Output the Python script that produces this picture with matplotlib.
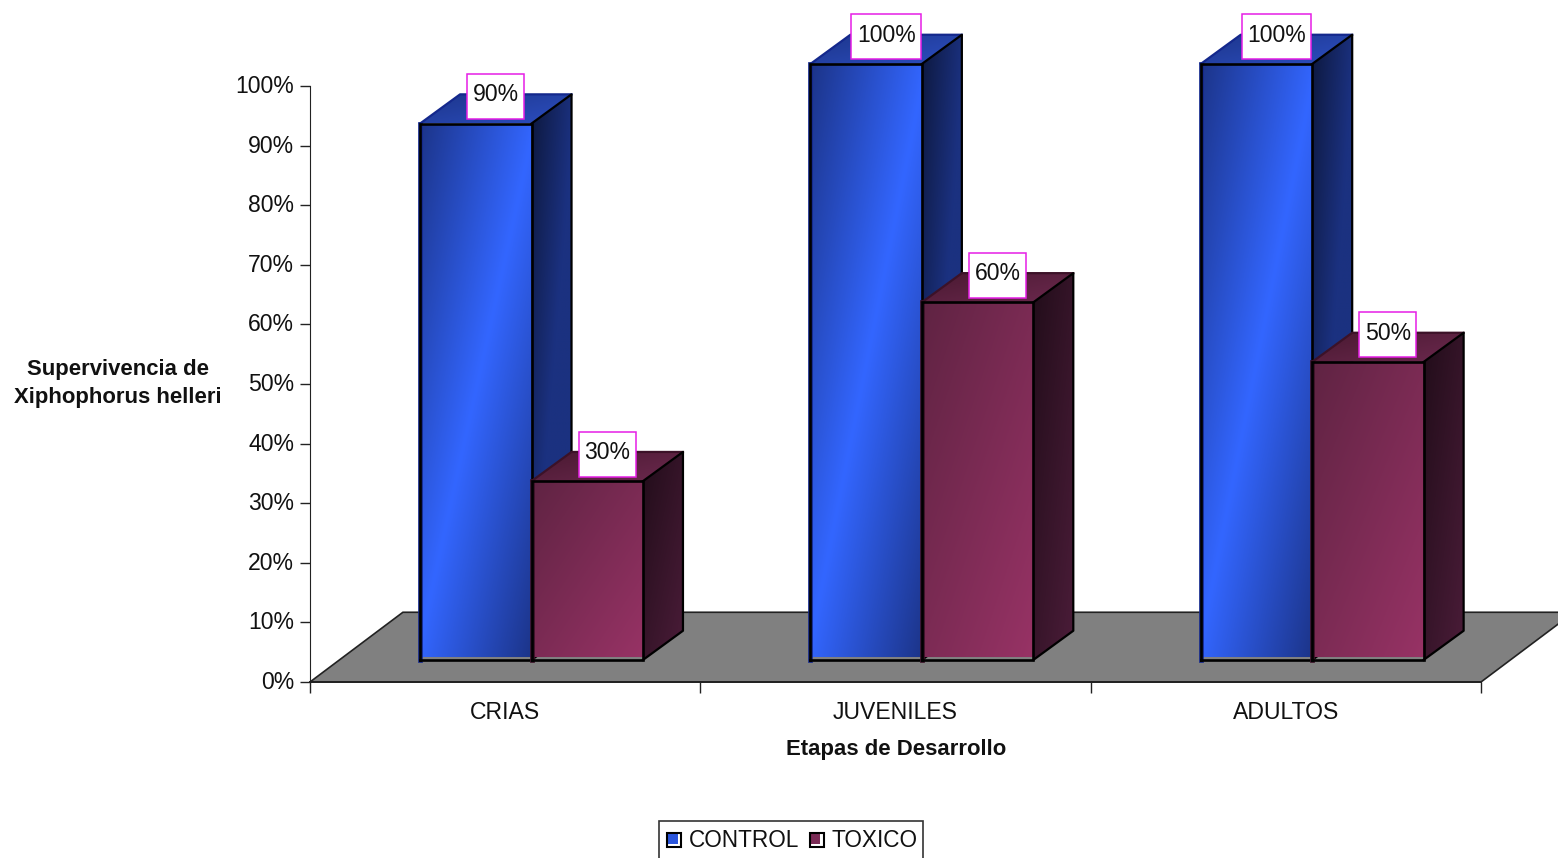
import matplotlib
matplotlib.use("Agg")
import matplotlib.pyplot as plt
import numpy as np
from matplotlib.colors import LinearSegmentedColormap
from matplotlib.legend_handler import HandlerBase
from matplotlib.patches import Polygon, Rectangle
from matplotlib.path import Path
from matplotlib.transforms import ScaledTranslation

plt.rcParams["font.family"] = ["Liberation Sans", "DejaVu Sans"]

categories = ["CRIAS", "JUVENILES", "ADULTOS"]
control = [90, 100, 100]
toxico = [30, 60, 50]
y_ticks = list(range(0, 101, 10))

W, H = 1558, 858
AX_LEFT, AX_RIGHT, AX_TOP, AX_BOTTOM = 310, 1481, 86, 682

# sizes in data units: x = categories, y = percent
BAR_W = 0.2855
BAR_START = 0.282
BAR_BASE = 3.7
DEPTH_X, DEPTH_Y = 0.1025, 4.9
FLOOR_X, FLOOR_Y = 0.238, 11.7
FONT = 16.6

blue_front = LinearSegmentedColormap.from_list("bf", ["#1b3284", "#3366ff", "#1b3284"])
blue_side = LinearSegmentedColormap.from_list("bs", ["#0c1638", "#1b3180", "#1b3280"])
blue_top = LinearSegmentedColormap.from_list("bt", ["#1c3488", "#2d50c4"])
wine_front = LinearSegmentedColormap.from_list("wf", ["#5e2342", "#993366"])
wine_side = LinearSegmentedColormap.from_list("ws", ["#1f0c18", "#4d1d3a"])
wine_top = LinearSegmentedColormap.from_list("wt", ["#47182f", "#6e2a50"])

fig = plt.figure(figsize=(W / 100, H / 100), dpi=100)
ax = fig.add_axes([AX_LEFT / W, 1 - AX_BOTTOM / H,
                   (AX_RIGHT - AX_LEFT) / W, (AX_BOTTOM - AX_TOP) / H])


def gradient_face(corners, cmap, z):
    # diagonal gradient clipped to the polygon of a face
    pts = np.array(corners)
    x0, y0 = pts.min(axis=0)
    x1, y1 = pts.max(axis=0)
    u, v = np.meshgrid(np.linspace(0, 1, 200), np.linspace(0, 1, 400))
    # image slightly larger than the face so the clip path makes the edge
    im = ax.imshow((u + v) / 2, cmap=cmap, vmin=0, vmax=1, aspect="auto",
                   extent=[x0 - 0.01, x1 + 0.01, y0 - 0.5, y1 + 0.5], origin="upper",
                   zorder=z, interpolation="bilinear")
    im.set_clip_box(fig.bbox)
    im.set_clip_path(Polygon(corners, closed=True, transform=ax.transData))


def draw_bar(x, value, cmaps, top_edge, z):
    front, side, top = cmaps
    y0, y1 = BAR_BASE, BAR_BASE + value
    x1 = x + BAR_W
    f = [(x, y0 + 0.5), (x1, y0 + 0.5), (x1, y1), (x, y1)]
    s = [(x1, y0), (x1 + DEPTH_X, y0 + DEPTH_Y), (x1 + DEPTH_X, y1 + DEPTH_Y), (x1, y1)]
    t = [(x, y1), (x1, y1), (x1 + DEPTH_X, y1 + DEPTH_Y), (x + DEPTH_X, y1 + DEPTH_Y)]
    gradient_face(f, front, z)
    gradient_face(s, side, z)
    gradient_face(t, top, z)
    # outer edge of the top face stays coloured, the rest is black
    ax.plot([x, x + DEPTH_X, x1 + DEPTH_X], [y1, y1 + DEPTH_Y, y1 + DEPTH_Y],
            color=top_edge, lw=1.6, zorder=z + 0.1, clip_on=False)
    ax.plot([x, x], [y0, y1], color=top_edge, lw=3.4, zorder=z + 0.1, clip_on=False)
    ax.plot([x, x, x1, x1, x], [y0, y1, y1, y0, y0], color="black", lw=1.9,
            zorder=z + 0.2, clip_on=False, solid_joinstyle="miter")
    ax.plot([x1, x1 + DEPTH_X, x1 + DEPTH_X, x1],
            [y1, y1 + DEPTH_Y, y0 + DEPTH_Y, y0], color="black", lw=1.6,
            zorder=z + 0.2, clip_on=False)


def label_box(x0, y0, width, height, mutation_size):
    # fixed height box, only a little wider than the text
    pad_x, box_h = 5.5, 45
    cy = y0 + height / 2 - 1.5
    l, r = x0 - pad_x, x0 + width + pad_x
    b, t = cy - box_h / 2, cy + box_h / 2
    return Path([(l, b), (r, b), (r, t), (l, t), (l, b)], closed=True)


def value_label(x, value):
    ax.annotate(f"{value}%", (x + BAR_W / 2 + DEPTH_X / 2,
                              BAR_BASE + value + DEPTH_Y - 0.1),
                ha="center", va="center", fontsize=FONT, color="#111111", zorder=50,
                annotation_clip=False,
                bbox=dict(boxstyle=label_box, fc="white", ec="#e61ee6", lw=1.1))


# floor of the plot
floor = Polygon([(0, 0), (3, 0), (3 + FLOOR_X, FLOOR_Y), (FLOOR_X, FLOOR_Y)], closed=True,
                fc="#808080", ec="#222222", lw=1.2, zorder=1, clip_on=False)
ax.add_patch(floor)

z = 5
for i, (c, t) in enumerate(zip(control, toxico)):
    xc = i + BAR_START
    xt = xc + BAR_W
    draw_bar(xc, c, (blue_front, blue_side, blue_top), "#14288c", z)
    draw_bar(xt, t, (wine_front, wine_side, wine_top), "#3c1228", z + 1)
    z += 2
for i, (c, t) in enumerate(zip(control, toxico)):
    value_label(i + BAR_START, c)
    value_label(i + BAR_START + BAR_W, t)

ax.set_xlim(0, 3)
ax.set_ylim(0, 100)

ax.set_yticks(y_ticks)
ax.set_yticklabels([f"{v}%" for v in y_ticks], fontsize=FONT, color="#111111")
ax.tick_params(axis="y", length=7.4, width=1, pad=3.9, color="#222222")
lift = ScaledTranslation(0, 1.5 / 72, fig.dpi_scale_trans)
for lab in ax.get_yticklabels():
    lab.set_transform(lab.get_transform() + lift)
ax.set_xticks([0, 1, 2, 3])
ax.set_xticklabels([])
ax.tick_params(axis="x", which="major", length=8, width=1, color="#222222")
ax.set_xticks([0.5, 1.5, 2.5], minor=True)
ax.set_xticklabels(categories, minor=True, fontsize=FONT, color="#111111")
ax.tick_params(axis="x", which="minor", length=0, pad=13.6)

for side in ("top", "right"):
    ax.spines[side].set_visible(False)
ax.spines["left"].set_color("#222222")
ax.spines["bottom"].set_color("#222222")
ax.spines["bottom"].set_linewidth(1.4)
ax.spines["bottom"].set_zorder(3)

ax.set_xlabel("Etapas de Desarrollo", fontsize=15.9, fontweight="bold", color="#111111", va="center")
ax.xaxis.set_label_coords((896 - AX_LEFT) / (AX_RIGHT - AX_LEFT), (AX_BOTTOM - 749.5) / (AX_BOTTOM - AX_TOP))
ax.set_ylabel("Supervivencia de\nXiphophorus helleri", fontsize=15.9, fontweight="bold",
              rotation=0, ha="center", va="center", linespacing=1.5, color="#111111")
ax.yaxis.set_label_coords((118 - AX_LEFT) / (AX_RIGHT - AX_LEFT), (AX_BOTTOM - 383.5) / (AX_BOTTOM - AX_TOP))


class LegendKey(HandlerBase):
    # small gradient-coloured square with a larger, offset black outline
    def create_artists(self, legend, orig, xd, yd, width, height, fontsize, trans):
        mid = height / 2
        fill = Rectangle((0.7, mid - 3.9), 8.5, 8.7, fc=orig.get_facecolor(), ec="none", transform=trans)
        line = Rectangle((1.4, mid - 5.9), 10.2, 10.2, fc="none", ec="black", lw=1.5, transform=trans)
        return [fill, line]


# legend frame runs past the bottom edge of the figure
fig.add_artist(Rectangle((659 / W, -0.02), 264 / W, 1 - 821 / H + 0.02, transform=fig.transFigure,
                         fc="white", ec="#333333", lw=1.2))
handles = [Rectangle((0, 0), 1, 1, fc="#2a55dc"), Rectangle((0, 0), 1, 1, fc="#7a2a55")]
leg = fig.legend(handles, ["CONTROL", "TOXICO"], loc="upper left",
                 bbox_to_anchor=(657 / W, 1 - 821 / H), ncol=2, fontsize=16.3,
                 handler_map={Rectangle: LegendKey()}, frameon=False,
                 borderaxespad=0, borderpad=0.35, handlelength=0.85, handletextpad=0.22,
                 columnspacing=0.36, labelcolor="#111111")

fig.savefig("out.png", dpi=100)
